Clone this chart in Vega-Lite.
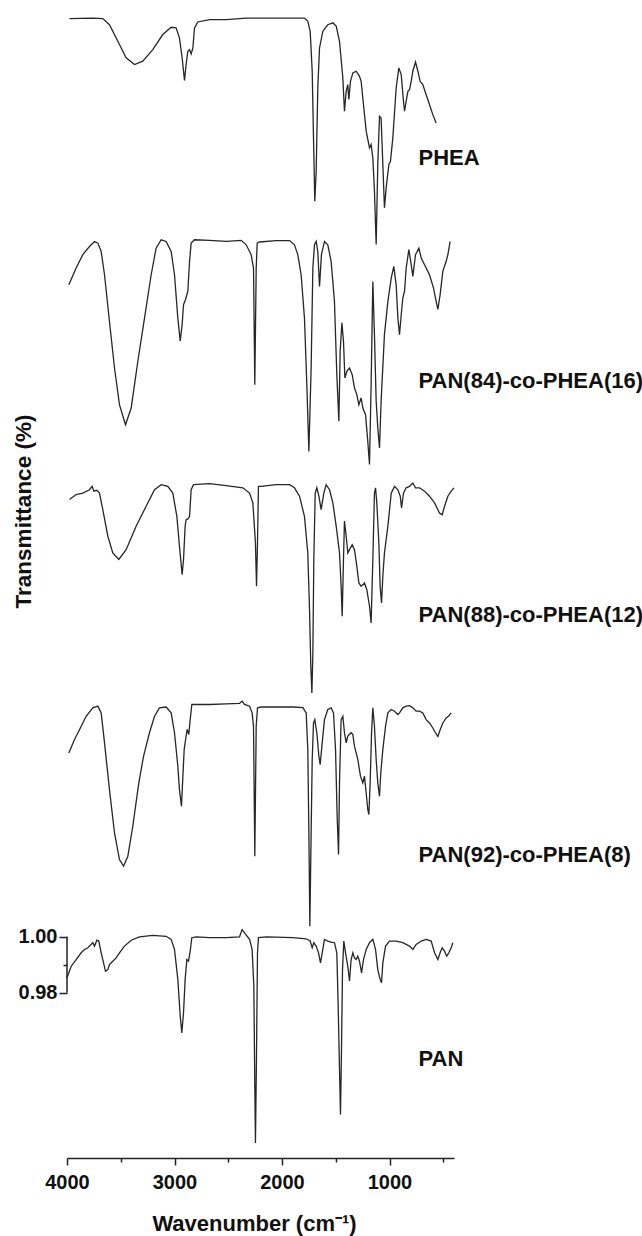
{
  "$schema": "https://vega.github.io/schema/vega-lite/v6.json",
  "width": 387,
  "height": 1145,
  "autosize": {"type": "none"},
  "padding": {"left": 67, "top": 13, "right": 188, "bottom": 78},
  "background": "white",
  "config": {"view": {"stroke": null}, "font": "Liberation Sans"},
  "datasets": {
    "spectra": [
      {"s":"PHEA","w":3977,"t":1.3280},{"s":"PHEA","w":3760,"t":1.3282},{"s":"PHEA","w":3667,"t":1.3280},{"s":"PHEA","w":3605,"t":1.3258},{"s":"PHEA","w":3527,"t":1.3199},{"s":"PHEA","w":3450,"t":1.3140},{"s":"PHEA","w":3372,"t":1.3116},{"s":"PHEA","w":3295,"t":1.3128},{"s":"PHEA","w":3202,"t":1.3169},{"s":"PHEA","w":3109,"t":1.3223},{"s":"PHEA","w":3031,"t":1.3249},{"s":"PHEA","w":2985,"t":1.3247},{"s":"PHEA","w":2954,"t":1.3211},{"s":"PHEA","w":2929,"t":1.3140},{"s":"PHEA","w":2907,"t":1.3059},{"s":"PHEA","w":2892,"t":1.3116},{"s":"PHEA","w":2876,"t":1.3163},{"s":"PHEA","w":2860,"t":1.3169},{"s":"PHEA","w":2845,"t":1.3154},{"s":"PHEA","w":2829,"t":1.3175},{"s":"PHEA","w":2814,"t":1.3247},{"s":"PHEA","w":2783,"t":1.3268},{"s":"PHEA","w":2674,"t":1.3276},{"s":"PHEA","w":2519,"t":1.3276},{"s":"PHEA","w":2333,"t":1.3282},{"s":"PHEA","w":2209,"t":1.3282},{"s":"PHEA","w":1899,"t":1.3282},{"s":"PHEA","w":1791,"t":1.3282},{"s":"PHEA","w":1760,"t":1.3270},{"s":"PHEA","w":1738,"t":1.3235},{"s":"PHEA","w":1719,"t":1.3092},{"s":"PHEA","w":1707,"t":1.2854},{"s":"PHEA","w":1695,"t":1.2628},{"s":"PHEA","w":1682,"t":1.2735},{"s":"PHEA","w":1667,"t":1.3032},{"s":"PHEA","w":1651,"t":1.3175},{"s":"PHEA","w":1620,"t":1.3235},{"s":"PHEA","w":1574,"t":1.3258},{"s":"PHEA","w":1527,"t":1.3265},{"s":"PHEA","w":1496,"t":1.3253},{"s":"PHEA","w":1465,"t":1.3199},{"s":"PHEA","w":1434,"t":1.3068},{"s":"PHEA","w":1419,"t":1.2949},{"s":"PHEA","w":1403,"t":1.3020},{"s":"PHEA","w":1388,"t":1.3044},{"s":"PHEA","w":1378,"t":1.2991},{"s":"PHEA","w":1363,"t":1.3056},{"s":"PHEA","w":1341,"t":1.3086},{"s":"PHEA","w":1310,"t":1.3092},{"s":"PHEA","w":1279,"t":1.3074},{"s":"PHEA","w":1264,"t":1.3056},{"s":"PHEA","w":1242,"t":1.2973},{"s":"PHEA","w":1217,"t":1.2878},{"s":"PHEA","w":1186,"t":1.2818},{"s":"PHEA","w":1171,"t":1.2830},{"s":"PHEA","w":1155,"t":1.2782},{"s":"PHEA","w":1140,"t":1.2663},{"s":"PHEA","w":1124,"t":1.2473},{"s":"PHEA","w":1109,"t":1.2759},{"s":"PHEA","w":1093,"t":1.2931},{"s":"PHEA","w":1078,"t":1.2925},{"s":"PHEA","w":1062,"t":1.2759},{"s":"PHEA","w":1047,"t":1.2604},{"s":"PHEA","w":1031,"t":1.2675},{"s":"PHEA","w":1006,"t":1.2759},{"s":"PHEA","w":991,"t":1.2770},{"s":"PHEA","w":969,"t":1.2854},{"s":"PHEA","w":938,"t":1.3032},{"s":"PHEA","w":913,"t":1.3104},{"s":"PHEA","w":891,"t":1.3080},{"s":"PHEA","w":870,"t":1.2985},{"s":"PHEA","w":860,"t":1.2949},{"s":"PHEA","w":845,"t":1.2985},{"s":"PHEA","w":829,"t":1.3020},{"s":"PHEA","w":814,"t":1.3026},{"s":"PHEA","w":798,"t":1.3056},{"s":"PHEA","w":783,"t":1.3092},{"s":"PHEA","w":758,"t":1.3125},{"s":"PHEA","w":736,"t":1.3092},{"s":"PHEA","w":715,"t":1.3056},{"s":"PHEA","w":690,"t":1.3044},{"s":"PHEA","w":659,"t":1.3008},{"s":"PHEA","w":628,"t":1.2973},{"s":"PHEA","w":597,"t":1.2937},{"s":"PHEA","w":566,"t":1.2907},

      {"s":"PAN84","w":3983,"t":1.2329},{"s":"PAN84","w":3915,"t":1.2389},{"s":"PAN84","w":3853,"t":1.2437},{"s":"PAN84","w":3791,"t":1.2466},{"s":"PAN84","w":3744,"t":1.2484},{"s":"PAN84","w":3713,"t":1.2478},{"s":"PAN84","w":3682,"t":1.2448},{"s":"PAN84","w":3651,"t":1.2365},{"s":"PAN84","w":3605,"t":1.2198},{"s":"PAN84","w":3558,"t":1.2032},{"s":"PAN84","w":3512,"t":1.1901},{"s":"PAN84","w":3456,"t":1.1829},{"s":"PAN84","w":3403,"t":1.1889},{"s":"PAN84","w":3341,"t":1.2056},{"s":"PAN84","w":3279,"t":1.2210},{"s":"PAN84","w":3217,"t":1.2365},{"s":"PAN84","w":3171,"t":1.2460},{"s":"PAN84","w":3124,"t":1.2490},{"s":"PAN84","w":3078,"t":1.2484},{"s":"PAN84","w":3031,"t":1.2448},{"s":"PAN84","w":3000,"t":1.2365},{"s":"PAN84","w":2969,"t":1.2210},{"s":"PAN84","w":2947,"t":1.2129},{"s":"PAN84","w":2929,"t":1.2187},{"s":"PAN84","w":2916,"t":1.2258},{"s":"PAN84","w":2898,"t":1.2276},{"s":"PAN84","w":2876,"t":1.2306},{"s":"PAN84","w":2860,"t":1.2413},{"s":"PAN84","w":2845,"t":1.2478},{"s":"PAN84","w":2814,"t":1.2490},{"s":"PAN84","w":2674,"t":1.2488},{"s":"PAN84","w":2519,"t":1.2484},{"s":"PAN84","w":2380,"t":1.2488},{"s":"PAN84","w":2333,"t":1.2472},{"s":"PAN84","w":2287,"t":1.2437},{"s":"PAN84","w":2265,"t":1.2389},{"s":"PAN84","w":2253,"t":1.1972},{"s":"PAN84","w":2240,"t":1.2389},{"s":"PAN84","w":2231,"t":1.2478},{"s":"PAN84","w":2209,"t":1.2482},{"s":"PAN84","w":2054,"t":1.2487},{"s":"PAN84","w":1930,"t":1.2487},{"s":"PAN84","w":1884,"t":1.2472},{"s":"PAN84","w":1853,"t":1.2437},{"s":"PAN84","w":1822,"t":1.2365},{"s":"PAN84","w":1791,"t":1.2210},{"s":"PAN84","w":1769,"t":1.1972},{"s":"PAN84","w":1750,"t":1.1734},{"s":"PAN84","w":1729,"t":1.2032},{"s":"PAN84","w":1713,"t":1.2389},{"s":"PAN84","w":1698,"t":1.2472},{"s":"PAN84","w":1682,"t":1.2484},{"s":"PAN84","w":1667,"t":1.2448},{"s":"PAN84","w":1651,"t":1.2323},{"s":"PAN84","w":1633,"t":1.2437},{"s":"PAN84","w":1605,"t":1.2484},{"s":"PAN84","w":1574,"t":1.2472},{"s":"PAN84","w":1543,"t":1.2413},{"s":"PAN84","w":1512,"t":1.2270},{"s":"PAN84","w":1490,"t":1.2008},{"s":"PAN84","w":1471,"t":1.1842},{"s":"PAN84","w":1459,"t":1.2091},{"s":"PAN84","w":1443,"t":1.2193},{"s":"PAN84","w":1428,"t":1.2127},{"s":"PAN84","w":1415,"t":1.1996},{"s":"PAN84","w":1397,"t":1.2020},{"s":"PAN84","w":1372,"t":1.2032},{"s":"PAN84","w":1347,"t":1.2008},{"s":"PAN84","w":1326,"t":1.1961},{"s":"PAN84","w":1304,"t":1.1937},{"s":"PAN84","w":1285,"t":1.1901},{"s":"PAN84","w":1264,"t":1.1925},{"s":"PAN84","w":1248,"t":1.1889},{"s":"PAN84","w":1223,"t":1.1865},{"s":"PAN84","w":1202,"t":1.1770},{"s":"PAN84","w":1186,"t":1.1687},{"s":"PAN84","w":1171,"t":1.1972},{"s":"PAN84","w":1155,"t":1.2341},{"s":"PAN84","w":1140,"t":1.2151},{"s":"PAN84","w":1124,"t":1.1913},{"s":"PAN84","w":1109,"t":1.1818},{"s":"PAN84","w":1093,"t":1.1746},{"s":"PAN84","w":1078,"t":1.1913},{"s":"PAN84","w":1047,"t":1.2151},{"s":"PAN84","w":1015,"t":1.2270},{"s":"PAN84","w":984,"t":1.2353},{"s":"PAN84","w":960,"t":1.2395},{"s":"PAN84","w":938,"t":1.2329},{"s":"PAN84","w":922,"t":1.2210},{"s":"PAN84","w":907,"t":1.2151},{"s":"PAN84","w":891,"t":1.2222},{"s":"PAN84","w":876,"t":1.2282},{"s":"PAN84","w":860,"t":1.2306},{"s":"PAN84","w":845,"t":1.2389},{"s":"PAN84","w":820,"t":1.2455},{"s":"PAN84","w":798,"t":1.2401},{"s":"PAN84","w":783,"t":1.2359},{"s":"PAN84","w":758,"t":1.2437},{"s":"PAN84","w":727,"t":1.2460},{"s":"PAN84","w":705,"t":1.2425},{"s":"PAN84","w":674,"t":1.2401},{"s":"PAN84","w":628,"t":1.2365},{"s":"PAN84","w":591,"t":1.2318},{"s":"PAN84","w":566,"t":1.2270},{"s":"PAN84","w":550,"t":1.2241},{"s":"PAN84","w":529,"t":1.2294},{"s":"PAN84","w":504,"t":1.2377},{"s":"PAN84","w":473,"t":1.2413},{"s":"PAN84","w":457,"t":1.2437},{"s":"PAN84","w":436,"t":1.2484},

      {"s":"PAN88","w":3977,"t":1.1562},{"s":"PAN88","w":3915,"t":1.1580},{"s":"PAN88","w":3853,"t":1.1585},{"s":"PAN88","w":3791,"t":1.1597},{"s":"PAN88","w":3766,"t":1.1609},{"s":"PAN88","w":3750,"t":1.1592},{"s":"PAN88","w":3722,"t":1.1595},{"s":"PAN88","w":3698,"t":1.1585},{"s":"PAN88","w":3667,"t":1.1526},{"s":"PAN88","w":3620,"t":1.1431},{"s":"PAN88","w":3574,"t":1.1371},{"s":"PAN88","w":3518,"t":1.1348},{"s":"PAN88","w":3450,"t":1.1383},{"s":"PAN88","w":3357,"t":1.1467},{"s":"PAN88","w":3264,"t":1.1538},{"s":"PAN88","w":3186,"t":1.1597},{"s":"PAN88","w":3124,"t":1.1615},{"s":"PAN88","w":3062,"t":1.1609},{"s":"PAN88","w":3016,"t":1.1585},{"s":"PAN88","w":2978,"t":1.1502},{"s":"PAN88","w":2954,"t":1.1395},{"s":"PAN88","w":2929,"t":1.1294},{"s":"PAN88","w":2916,"t":1.1348},{"s":"PAN88","w":2901,"t":1.1467},{"s":"PAN88","w":2892,"t":1.1490},{"s":"PAN88","w":2876,"t":1.1493},{"s":"PAN88","w":2860,"t":1.1502},{"s":"PAN88","w":2845,"t":1.1597},{"s":"PAN88","w":2823,"t":1.1615},{"s":"PAN88","w":2674,"t":1.1619},{"s":"PAN88","w":2519,"t":1.1612},{"s":"PAN88","w":2364,"t":1.1604},{"s":"PAN88","w":2302,"t":1.1585},{"s":"PAN88","w":2271,"t":1.1550},{"s":"PAN88","w":2247,"t":1.1407},{"s":"PAN88","w":2237,"t":1.1252},{"s":"PAN88","w":2228,"t":1.1407},{"s":"PAN88","w":2219,"t":1.1609},{"s":"PAN88","w":2194,"t":1.1609},{"s":"PAN88","w":2054,"t":1.1615},{"s":"PAN88","w":1930,"t":1.1615},{"s":"PAN88","w":1884,"t":1.1604},{"s":"PAN88","w":1837,"t":1.1574},{"s":"PAN88","w":1791,"t":1.1502},{"s":"PAN88","w":1760,"t":1.1371},{"s":"PAN88","w":1744,"t":1.1169},{"s":"PAN88","w":1732,"t":1.0967},{"s":"PAN88","w":1722,"t":1.0871},{"s":"PAN88","w":1713,"t":1.1014},{"s":"PAN88","w":1704,"t":1.1348},{"s":"PAN88","w":1691,"t":1.1585},{"s":"PAN88","w":1676,"t":1.1604},{"s":"PAN88","w":1657,"t":1.1574},{"s":"PAN88","w":1636,"t":1.1526},{"s":"PAN88","w":1611,"t":1.1585},{"s":"PAN88","w":1589,"t":1.1615},{"s":"PAN88","w":1558,"t":1.1597},{"s":"PAN88","w":1527,"t":1.1550},{"s":"PAN88","w":1496,"t":1.1467},{"s":"PAN88","w":1465,"t":1.1371},{"s":"PAN88","w":1450,"t":1.1252},{"s":"PAN88","w":1440,"t":1.1145},{"s":"PAN88","w":1428,"t":1.1348},{"s":"PAN88","w":1419,"t":1.1485},{"s":"PAN88","w":1403,"t":1.1431},{"s":"PAN88","w":1388,"t":1.1371},{"s":"PAN88","w":1372,"t":1.1383},{"s":"PAN88","w":1347,"t":1.1401},{"s":"PAN88","w":1326,"t":1.1383},{"s":"PAN88","w":1304,"t":1.1324},{"s":"PAN88","w":1285,"t":1.1264},{"s":"PAN88","w":1264,"t":1.1252},{"s":"PAN88","w":1233,"t":1.1264},{"s":"PAN88","w":1211,"t":1.1240},{"s":"PAN88","w":1186,"t":1.1181},{"s":"PAN88","w":1171,"t":1.1121},{"s":"PAN88","w":1155,"t":1.1348},{"s":"PAN88","w":1140,"t":1.1585},{"s":"PAN88","w":1130,"t":1.1604},{"s":"PAN88","w":1118,"t":1.1550},{"s":"PAN88","w":1099,"t":1.1407},{"s":"PAN88","w":1087,"t":1.1252},{"s":"PAN88","w":1074,"t":1.1193},{"s":"PAN88","w":1062,"t":1.1288},{"s":"PAN88","w":1047,"t":1.1371},{"s":"PAN88","w":1015,"t":1.1467},{"s":"PAN88","w":984,"t":1.1585},{"s":"PAN88","w":953,"t":1.1609},{"s":"PAN88","w":922,"t":1.1597},{"s":"PAN88","w":900,"t":1.1574},{"s":"PAN88","w":888,"t":1.1532},{"s":"PAN88","w":870,"t":1.1585},{"s":"PAN88","w":845,"t":1.1604},{"s":"PAN88","w":814,"t":1.1609},{"s":"PAN88","w":783,"t":1.1621},{"s":"PAN88","w":758,"t":1.1604},{"s":"PAN88","w":721,"t":1.1604},{"s":"PAN88","w":674,"t":1.1592},{"s":"PAN88","w":628,"t":1.1574},{"s":"PAN88","w":581,"t":1.1550},{"s":"PAN88","w":535,"t":1.1514},{"s":"PAN88","w":510,"t":1.1508},{"s":"PAN88","w":488,"t":1.1538},{"s":"PAN88","w":457,"t":1.1574},{"s":"PAN88","w":426,"t":1.1592},{"s":"PAN88","w":400,"t":1.1604},

      {"s":"PAN92","w":3983,"t":1.0657},{"s":"PAN92","w":3930,"t":1.0705},{"s":"PAN92","w":3884,"t":1.0740},{"s":"PAN92","w":3822,"t":1.0788},{"s":"PAN92","w":3760,"t":1.0818},{"s":"PAN92","w":3713,"t":1.0824},{"s":"PAN92","w":3682,"t":1.0800},{"s":"PAN92","w":3651,"t":1.0693},{"s":"PAN92","w":3605,"t":1.0526},{"s":"PAN92","w":3558,"t":1.0371},{"s":"PAN92","w":3512,"t":1.0276},{"s":"PAN92","w":3474,"t":1.0253},{"s":"PAN92","w":3434,"t":1.0288},{"s":"PAN92","w":3388,"t":1.0395},{"s":"PAN92","w":3332,"t":1.0550},{"s":"PAN92","w":3288,"t":1.0645},{"s":"PAN92","w":3233,"t":1.0729},{"s":"PAN92","w":3186,"t":1.0788},{"s":"PAN92","w":3140,"t":1.0818},{"s":"PAN92","w":3078,"t":1.0821},{"s":"PAN92","w":3031,"t":1.0800},{"s":"PAN92","w":3000,"t":1.0729},{"s":"PAN92","w":2969,"t":1.0610},{"s":"PAN92","w":2954,"t":1.0526},{"s":"PAN92","w":2935,"t":1.0467},{"s":"PAN92","w":2922,"t":1.0574},{"s":"PAN92","w":2910,"t":1.0669},{"s":"PAN92","w":2892,"t":1.0717},{"s":"PAN92","w":2882,"t":1.0741},{"s":"PAN92","w":2867,"t":1.0723},{"s":"PAN92","w":2854,"t":1.0776},{"s":"PAN92","w":2839,"t":1.0830},{"s":"PAN92","w":2674,"t":1.0830},{"s":"PAN92","w":2519,"t":1.0832},{"s":"PAN92","w":2395,"t":1.0834},{"s":"PAN92","w":2371,"t":1.0842},{"s":"PAN92","w":2349,"t":1.0830},{"s":"PAN92","w":2302,"t":1.0824},{"s":"PAN92","w":2278,"t":1.0800},{"s":"PAN92","w":2265,"t":1.0752},{"s":"PAN92","w":2253,"t":1.0288},{"s":"PAN92","w":2240,"t":1.0752},{"s":"PAN92","w":2228,"t":1.0818},{"s":"PAN92","w":2194,"t":1.0821},{"s":"PAN92","w":2054,"t":1.0821},{"s":"PAN92","w":1899,"t":1.0821},{"s":"PAN92","w":1806,"t":1.0819},{"s":"PAN92","w":1775,"t":1.0800},{"s":"PAN92","w":1760,"t":1.0669},{"s":"PAN92","w":1750,"t":1.0372},{"s":"PAN92","w":1741,"t":1.0038},{"s":"PAN92","w":1729,"t":1.0372},{"s":"PAN92","w":1719,"t":1.0633},{"s":"PAN92","w":1707,"t":1.0764},{"s":"PAN92","w":1695,"t":1.0776},{"s":"PAN92","w":1676,"t":1.0729},{"s":"PAN92","w":1657,"t":1.0645},{"s":"PAN92","w":1645,"t":1.0615},{"s":"PAN92","w":1626,"t":1.0693},{"s":"PAN92","w":1605,"t":1.0776},{"s":"PAN92","w":1574,"t":1.0812},{"s":"PAN92","w":1543,"t":1.0818},{"s":"PAN92","w":1521,"t":1.0800},{"s":"PAN92","w":1502,"t":1.0669},{"s":"PAN92","w":1487,"t":1.0431},{"s":"PAN92","w":1474,"t":1.0294},{"s":"PAN92","w":1465,"t":1.0550},{"s":"PAN92","w":1450,"t":1.0776},{"s":"PAN92","w":1434,"t":1.0788},{"s":"PAN92","w":1419,"t":1.0729},{"s":"PAN92","w":1403,"t":1.0693},{"s":"PAN92","w":1388,"t":1.0717},{"s":"PAN92","w":1357,"t":1.0729},{"s":"PAN92","w":1341,"t":1.0723},{"s":"PAN92","w":1326,"t":1.0681},{"s":"PAN92","w":1295,"t":1.0634},{"s":"PAN92","w":1270,"t":1.0574},{"s":"PAN92","w":1248,"t":1.0550},{"s":"PAN92","w":1233,"t":1.0574},{"s":"PAN92","w":1217,"t":1.0514},{"s":"PAN92","w":1202,"t":1.0455},{"s":"PAN92","w":1192,"t":1.0437},{"s":"PAN92","w":1180,"t":1.0550},{"s":"PAN92","w":1167,"t":1.0729},{"s":"PAN92","w":1155,"t":1.0818},{"s":"PAN92","w":1140,"t":1.0752},{"s":"PAN92","w":1124,"t":1.0633},{"s":"PAN92","w":1109,"t":1.0550},{"s":"PAN92","w":1093,"t":1.0502},{"s":"PAN92","w":1081,"t":1.0586},{"s":"PAN92","w":1062,"t":1.0669},{"s":"PAN92","w":1037,"t":1.0752},{"s":"PAN92","w":1015,"t":1.0800},{"s":"PAN92","w":984,"t":1.0812},{"s":"PAN92","w":953,"t":1.0806},{"s":"PAN92","w":922,"t":1.0794},{"s":"PAN92","w":907,"t":1.0800},{"s":"PAN92","w":876,"t":1.0818},{"s":"PAN92","w":845,"t":1.0824},{"s":"PAN92","w":814,"t":1.0826},{"s":"PAN92","w":783,"t":1.0818},{"s":"PAN92","w":752,"t":1.0806},{"s":"PAN92","w":721,"t":1.0806},{"s":"PAN92","w":690,"t":1.0800},{"s":"PAN92","w":659,"t":1.0776},{"s":"PAN92","w":628,"t":1.0764},{"s":"PAN92","w":597,"t":1.0746},{"s":"PAN92","w":572,"t":1.0729},{"s":"PAN92","w":550,"t":1.0716},{"s":"PAN92","w":529,"t":1.0740},{"s":"PAN92","w":504,"t":1.0764},{"s":"PAN92","w":473,"t":1.0782},{"s":"PAN92","w":451,"t":1.0788},{"s":"PAN92","w":426,"t":1.0800},

      {"s":"PAN","w":4000,"t":0.9854},{"s":"PAN","w":3961,"t":0.9895},{"s":"PAN","w":3915,"t":0.9919},{"s":"PAN","w":3868,"t":0.9943},{"s":"PAN","w":3837,"t":0.9955},{"s":"PAN","w":3806,"t":0.9961},{"s":"PAN","w":3775,"t":0.9973},{"s":"PAN","w":3760,"t":0.9979},{"s":"PAN","w":3744,"t":0.9967},{"s":"PAN","w":3722,"t":0.9988},{"s":"PAN","w":3704,"t":0.9985},{"s":"PAN","w":3682,"t":0.9943},{"s":"PAN","w":3660,"t":0.9907},{"s":"PAN","w":3642,"t":0.9877},{"s":"PAN","w":3620,"t":0.9883},{"s":"PAN","w":3605,"t":0.9901},{"s":"PAN","w":3574,"t":0.9913},{"s":"PAN","w":3543,"t":0.9925},{"s":"PAN","w":3512,"t":0.9943},{"s":"PAN","w":3465,"t":0.9967},{"s":"PAN","w":3403,"t":0.9988},{"s":"PAN","w":3326,"t":1.0000},{"s":"PAN","w":3202,"t":1.0005},{"s":"PAN","w":3078,"t":1.0002},{"s":"PAN","w":3031,"t":0.9991},{"s":"PAN","w":3000,"t":0.9955},{"s":"PAN","w":2969,"t":0.9848},{"s":"PAN","w":2947,"t":0.9717},{"s":"PAN","w":2932,"t":0.9657},{"s":"PAN","w":2916,"t":0.9729},{"s":"PAN","w":2901,"t":0.9848},{"s":"PAN","w":2885,"t":0.9919},{"s":"PAN","w":2870,"t":0.9913},{"s":"PAN","w":2854,"t":0.9949},{"s":"PAN","w":2839,"t":0.9997},{"s":"PAN","w":2798,"t":1.0000},{"s":"PAN","w":2674,"t":0.9997},{"s":"PAN","w":2519,"t":0.9997},{"s":"PAN","w":2395,"t":1.0000},{"s":"PAN","w":2371,"t":1.0026},{"s":"PAN","w":2349,"t":1.0014},{"s":"PAN","w":2302,"t":0.9991},{"s":"PAN","w":2278,"t":0.9955},{"s":"PAN","w":2262,"t":0.9824},{"s":"PAN","w":2253,"t":0.9467},{"s":"PAN","w":2247,"t":0.9264},{"s":"PAN","w":2237,"t":0.9586},{"s":"PAN","w":2228,"t":0.9943},{"s":"PAN","w":2219,"t":0.9997},{"s":"PAN","w":2147,"t":1.0000},{"s":"PAN","w":1899,"t":0.9997},{"s":"PAN","w":1775,"t":0.9993},{"s":"PAN","w":1738,"t":0.9985},{"s":"PAN","w":1719,"t":0.9961},{"s":"PAN","w":1704,"t":0.9979},{"s":"PAN","w":1682,"t":0.9967},{"s":"PAN","w":1660,"t":0.9943},{"s":"PAN","w":1642,"t":0.9907},{"s":"PAN","w":1626,"t":0.9943},{"s":"PAN","w":1605,"t":0.9991},{"s":"PAN","w":1574,"t":0.9985},{"s":"PAN","w":1543,"t":0.9981},{"s":"PAN","w":1512,"t":0.9979},{"s":"PAN","w":1490,"t":0.9943},{"s":"PAN","w":1478,"t":0.9764},{"s":"PAN","w":1465,"t":0.9526},{"s":"PAN","w":1456,"t":0.9365},{"s":"PAN","w":1447,"t":0.9586},{"s":"PAN","w":1437,"t":0.9883},{"s":"PAN","w":1425,"t":0.9985},{"s":"PAN","w":1409,"t":0.9943},{"s":"PAN","w":1388,"t":0.9895},{"s":"PAN","w":1372,"t":0.9842},{"s":"PAN","w":1357,"t":0.9919},{"s":"PAN","w":1341,"t":0.9943},{"s":"PAN","w":1326,"t":0.9925},{"s":"PAN","w":1310,"t":0.9919},{"s":"PAN","w":1295,"t":0.9931},{"s":"PAN","w":1279,"t":0.9913},{"s":"PAN","w":1260,"t":0.9871},{"s":"PAN","w":1242,"t":0.9919},{"s":"PAN","w":1217,"t":0.9955},{"s":"PAN","w":1186,"t":0.9979},{"s":"PAN","w":1155,"t":0.9991},{"s":"PAN","w":1130,"t":0.9955},{"s":"PAN","w":1109,"t":0.9883},{"s":"PAN","w":1087,"t":0.9848},{"s":"PAN","w":1074,"t":0.9836},{"s":"PAN","w":1062,"t":0.9907},{"s":"PAN","w":1037,"t":0.9967},{"s":"PAN","w":1000,"t":0.9985},{"s":"PAN","w":938,"t":0.9985},{"s":"PAN","w":876,"t":0.9979},{"s":"PAN","w":814,"t":0.9967},{"s":"PAN","w":783,"t":0.9955},{"s":"PAN","w":752,"t":0.9973},{"s":"PAN","w":705,"t":0.9985},{"s":"PAN","w":659,"t":0.9991},{"s":"PAN","w":612,"t":0.9985},{"s":"PAN","w":581,"t":0.9943},{"s":"PAN","w":550,"t":0.9919},{"s":"PAN","w":529,"t":0.9943},{"s":"PAN","w":510,"t":0.9961},{"s":"PAN","w":488,"t":0.9949},{"s":"PAN","w":467,"t":0.9931},{"s":"PAN","w":448,"t":0.9943},{"s":"PAN","w":426,"t":0.9961},{"s":"PAN","w":411,"t":0.9979}
    ],
    "labels": [
      {"name": "PHEA", "w": 730, "t": 1.2783},
      {"name": "PAN(84)-co-PHEA(16)", "w": 730, "t": 1.1987},
      {"name": "PAN(88)-co-PHEA(12)", "w": 730, "t": 1.1151},
      {"name": "PAN(92)-co-PHEA(8)", "w": 730, "t": 1.0294},
      {"name": "PAN", "w": 730, "t": 0.9562}
    ],
    "yspan": [{"w": 4000, "lo": 0.98, "hi": 1.0}]
  },
  "resolve": {"axis": {"x": "independent", "y": "independent"}},
  "layer": [
    {
      "data": {"name": "spectra"},
      "mark": {"type": "line", "color": "#262626", "strokeWidth": 1.3, "interpolate": "linear"},
      "encoding": {
        "x": {
          "field": "w", "type": "quantitative",
          "scale": {"domain": [400, 4000], "reverse": true, "nice": false, "zero": false},
          "axis": {
            "orient": "bottom",
            "values": [4000, 3000, 2000, 1000],
            "format": "d",
            "grid": false,
            "labelFlush": false,
            "labelOverlap": false,
            "tickSize": 7, "tickWidth": 1.5, "tickColor": "#222",
            "domainColor": "#222", "domainWidth": 1.5,
            "labelFont": "Liberation Sans", "labelFontWeight": "bold", "labelFontSize": 20, "labelColor": "#111",
            "labelPadding": 7,
            "title": "Wavenumber (cm⁻¹)",
            "titleFont": "Liberation Sans", "titleFontWeight": "bold", "titleFontSize": 22, "titleColor": "#111",
            "titleX": 187, "titleY": 72, "titleAlign": "center", "titleBaseline": "alphabetic"
          }
        },
        "y": {
          "field": "t", "type": "quantitative",
          "scale": {"domain": [0.921, 1.33], "nice": false, "zero": false},
          "axis": {
            "orient": "left",
            "values": [0.98, 1.0],
            "format": ".2f",
            "grid": false,
            "domain": false,
            "labelFlush": false,
            "tickSize": 8, "tickWidth": 1.5, "tickColor": "#222",
            "labelFont": "Liberation Sans", "labelFontWeight": "bold", "labelFontSize": 20, "labelColor": "#111",
            "labelPadding": 2,
            "title": "Transmittance (%)",
            "titleFont": "Liberation Sans", "titleFontWeight": "bold", "titleFontSize": 22.5, "titleColor": "#111",
            "titleX": -37, "titleY": 498, "titleAngle": 270, "titleAlign": "center", "titleBaseline": "alphabetic"
          }
        },
        "detail": {"field": "s", "type": "nominal"}
      }
    },
    {
      "data": {"name": "yspan"},
      "mark": {"type": "rule", "color": "#222", "strokeWidth": 1.5},
      "encoding": {
        "x": {
          "field": "w", "type": "quantitative",
          "axis": {"orient": "bottom", "values": [3500, 2500, 1500, 500], "labels": false, "domain": false, "grid": false, "tickSize": 4, "tickWidth": 1.5, "tickColor": "#222", "title": null}
        },
        "y": {
          "field": "lo", "type": "quantitative",
          "axis": {"orient": "left", "values": [0.99], "labels": false, "domain": false, "grid": false, "tickSize": 4, "tickWidth": 1.5, "tickColor": "#222", "title": null}
        },
        "y2": {"field": "hi"}
      }
    },
    {
      "data": {"name": "labels"},
      "mark": {"type": "text", "align": "left", "baseline": "middle", "font": "Liberation Sans", "fontWeight": "bold", "fontSize": 22, "color": "#111"},
      "encoding": {
        "x": {"field": "w", "type": "quantitative", "axis": null},
        "y": {"field": "t", "type": "quantitative", "axis": null},
        "text": {"field": "name"}
      }
    }
  ]
}
